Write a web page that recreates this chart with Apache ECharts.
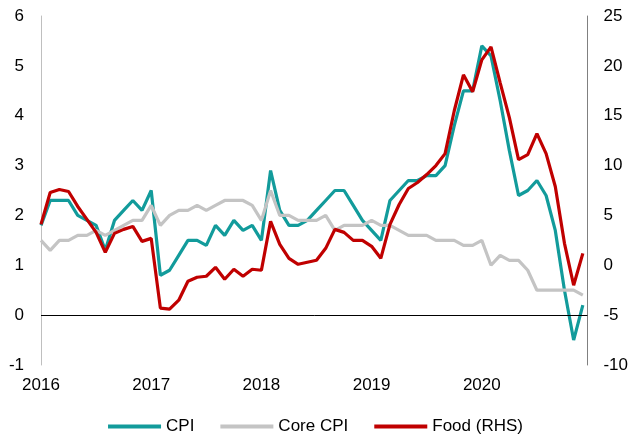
<!DOCTYPE html>
<html>
<head>
<meta charset="utf-8">
<title>cpi</title>
<script src="https://cdn.jsdelivr.net/npm/echarts@6/dist/echarts.min.js"></script>
<style>
  html, body { margin: 0; padding: 0; background: #fff; }
  #main { width: 631px; height: 437px; }
</style>
</head>
<body>
<div id="main"></div>
<script>
// monthly, Jan 2016 .. Dec 2020 (month index 0..59 on the x axis)
var years = ['2016', '2017', '2018', '2019', '2020'];

var cpi = [
  1.8, 2.3, 2.3, 2.3, 2.0, 1.9, 1.8, 1.3, 1.9, 2.1, 2.3, 2.1,
  2.5, 0.8, 0.9, 1.2, 1.5, 1.5, 1.4, 1.8, 1.6, 1.9, 1.7, 1.8,
  1.5, 2.9, 2.1, 1.8, 1.8, 1.9, 2.1, 2.3, 2.5, 2.5, 2.2, 1.9,
  1.7, 1.5, 2.3, 2.5, 2.7, 2.7, 2.8, 2.8, 3.0, 3.8, 4.5, 4.5,
  5.4, 5.2, 4.3, 3.3, 2.4, 2.5, 2.7, 2.4, 1.7, 0.5, -0.5, 0.2
];
var coreCpi = [
  1.5, 1.3, 1.5, 1.5, 1.6, 1.6, 1.7, 1.6, 1.7, 1.8, 1.9, 1.9,
  2.2, 1.8, 2.0, 2.1, 2.1, 2.2, 2.1, 2.2, 2.3, 2.3, 2.3, 2.2,
  1.9, 2.5, 2.0, 2.0, 1.9, 1.9, 1.9, 2.0, 1.7, 1.8, 1.8, 1.8,
  1.9, 1.8, 1.8, 1.7, 1.6, 1.6, 1.6, 1.5, 1.5, 1.5, 1.4, 1.4,
  1.5, 1.0, 1.2, 1.1, 1.1, 0.9, 0.5, 0.5, 0.5, 0.5, 0.5, 0.4
];
var food = [
  4.1, 7.3, 7.6, 7.4, 5.9, 4.6, 3.3, 1.3, 3.2, 3.6, 3.9, 2.4,
  2.7, -4.3, -4.4, -3.5, -1.6, -1.2, -1.1, -0.2, -1.4, -0.4, -1.1, -0.4,
  -0.5, 4.4, 2.1, 0.7, 0.1, 0.3, 0.5, 1.7, 3.6, 3.3, 2.5, 2.5,
  1.9, 0.7, 4.1, 6.1, 7.7, 8.3, 9.1, 10.0, 11.2, 15.5, 19.1, 17.4,
  20.6, 21.9, 18.3, 14.8, 10.6, 11.1, 13.2, 11.2, 7.9, 2.2, -2.0, 1.2
];

function pairs(arr) {
  return arr.map(function (v, i) { return [i, v]; });
}

var font = 'Liberation Sans, Arial, sans-serif';
var myChart = echarts.init(document.getElementById('main'));

option = {
  animation: false,
  textStyle: { fontFamily: font },
  grid: { left: 41, right: 43, top: 16, bottom: 72 },
  legend: {
    top: 416,
    left: 'center',
    icon: 'rect',
    itemWidth: 53,
    itemHeight: 4,
    itemGap: 26,
    padding: [2, 5, 0, 5],
    textStyle: { fontSize: 17, color: '#000', fontFamily: font },
    data: ['CPI', 'Core CPI', 'Food (RHS)']
  },
  xAxis: {
    type: 'value',
    min: 0,
    max: 59.5,
    interval: 12,
    axisLine: { show: false },
    axisTick: { show: false },
    axisLabel: {
      showMaxLabel: false,
      formatter: function (v) { return v % 12 === 0 ? (years[v / 12] || '') : ''; },
      margin: 12,
      fontSize: 17,
      color: '#000'
    },
    splitLine: { show: false }
  },
  yAxis: [{
    type: 'value',
    min: -1, max: 6, interval: 1,
    axisLine: { show: true, lineStyle: { color: '#bfbfbf', width: 1 } },
    axisTick: { show: false },
    splitLine: { show: false },
    axisLabel: { fontSize: 17, color: '#000', margin: 17 }
  }, {
    type: 'value',
    min: -10, max: 25, interval: 5,
    position: 'right',
    axisLine: { show: true, lineStyle: { color: '#808080', width: 1 } },
    axisTick: { show: false },
    splitLine: { show: false },
    axisLabel: { fontSize: 17, color: '#000', margin: 16 }
  }],
  series: [{
    name: 'CPI',
    type: 'line',
    data: pairs(cpi),
    symbol: 'none',
    lineStyle: { color: '#129b9b', width: 3.2 },
    itemStyle: { color: '#129b9b' },
    markLine: {
      silent: true,
      symbol: 'none',
      label: { show: false },
      lineStyle: { color: '#000', width: 1, type: 'solid' },
      data: [{ yAxis: 0 }]
    }
  }, {
    name: 'Core CPI',
    type: 'line',
    data: pairs(coreCpi),
    symbol: 'none',
    lineStyle: { color: '#c4c4c4', width: 3.2 },
    itemStyle: { color: '#c4c4c4' }
  }, {
    name: 'Food (RHS)',
    type: 'line',
    yAxisIndex: 1,
    data: pairs(food),
    symbol: 'none',
    lineStyle: { color: '#c00000', width: 3.2 },
    itemStyle: { color: '#c00000' }
  }]
};
myChart.setOption(option);
</script>
</body>
</html>
